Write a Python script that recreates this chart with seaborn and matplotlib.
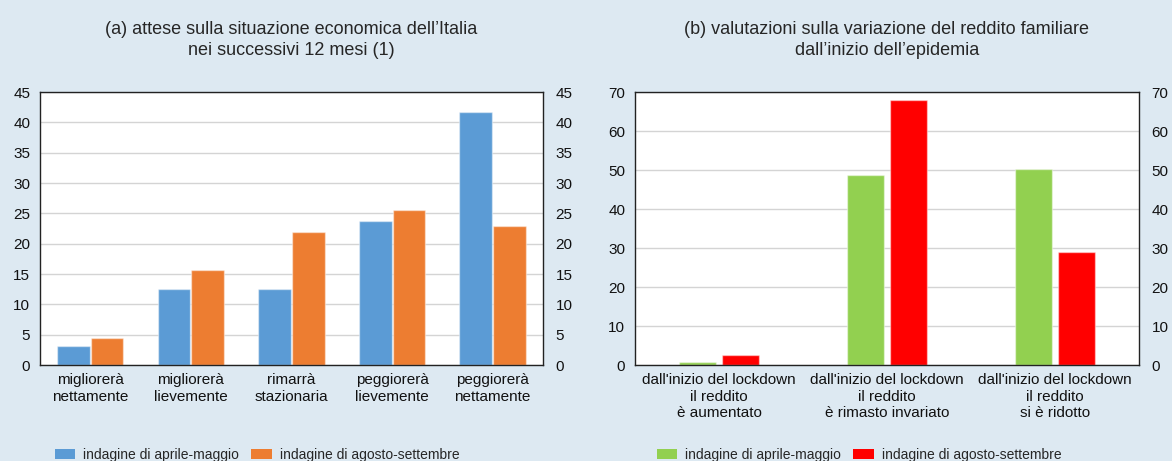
import pandas as pd
import matplotlib
matplotlib.use("Agg")
import matplotlib.pyplot as plt
from matplotlib.patches import Patch
import seaborn as sns

# Data
cat_a = ["migliorerà\nnettamente", "migliorerà\nlievemente", "rimarrà\nstazionaria",
         "peggiorerà\nlievemente", "peggiorerà\nnettamente"]
apr_a = [3.1, 12.6, 12.5, 23.7, 41.7]
ago_a = [4.5, 15.7, 21.9, 25.5, 22.9]

cat_b = ["dall'inizio del lockdown\nil reddito\nè aumentato",
         "dall'inizio del lockdown\nil reddito\nè rimasto invariato",
         "dall'inizio del lockdown\nil reddito\nsi è ridotto"]
apr_b = [0.9, 48.7, 50.2]
ago_b = [2.6, 68.1, 29.1]

series = ["indagine di aprile-maggio", "indagine di agosto-settembre"]

df_a = pd.DataFrame({"cat": cat_a * 2, "val": apr_a + ago_a,
                     "serie": [series[0]] * 5 + [series[1]] * 5})
df_b = pd.DataFrame({"cat": cat_b * 2, "val": apr_b + ago_b,
                     "serie": [series[0]] * 3 + [series[1]] * 3})

bg = "#dde9f2"
pal_a = ["#5b9bd5", "#ed7d31"]
pal_b = ["#92d050", "#ff0000"]

sns.set_style("white")
plt.rcParams["font.family"] = ["Liberation Sans", "DejaVu Sans"]

fig = plt.figure(figsize=(11.72, 4.61), dpi=100)
fig.patch.set_facecolor(bg)
ax1 = fig.add_axes([0.0341, 0.2082, 0.4292, 0.592])
ax2 = fig.add_axes([0.5418, 0.2082, 0.4300, 0.592])


def draw(ax, df, pal, ymax, step, width, gap, title):
    sns.barplot(data=df, x="cat", y="val", hue="serie", palette=pal, ax=ax,
                width=width, gap=gap, legend=False, saturation=1,
                edgecolor=(1, 1, 1, 0.45), linewidth=1)
    ax.set_ylim(0, ymax)
    ticks = list(range(0, ymax + 1, step))
    ax.set_yticks(ticks)
    ax.set_xlabel("")
    ax.set_ylabel("")
    ax.set_facecolor("white")
    ax.yaxis.grid(True, color="#d4d4d4", lw=1)
    ax.set_axisbelow(True)
    for s in ax.spines.values():
        s.set_color("#222222")
        s.set_linewidth(1)
    ax.tick_params(axis="both", length=0, labelsize=11, colors="#111111")
    ax.tick_params(axis="x", pad=6)
    ax.tick_params(axis="y", pad=7)
    ax.set_title(title, fontsize=13, linespacing=1.25, pad=27)
    axr = ax.twinx()
    axr.set_ylim(0, ymax)
    axr.set_yticks(ticks)
    axr.tick_params(axis="y", length=0, labelsize=11, pad=9, colors="#111111")
    for s in axr.spines.values():
        s.set_visible(False)


draw(ax1, df_a, pal_a, 45, 5, 0.67, 0.03,
     "(a) attese sulla situazione economica dell’Italia\nnei successivi 12 mesi (1)")
draw(ax2, df_b, pal_b, 70, 10, 0.51, 0.12,
     "(b) valutazioni sulla variazione del reddito familiare\ndall’inizio dell’epidemia")

for pal, xc in [(pal_a, 257 / 1172), (pal_b, 859 / 1172)]:
    handles = [Patch(facecolor=c, edgecolor="none") for c in pal]
    fig.legend(handles, series, loc="center", bbox_to_anchor=(xc, 1 - 455 / 461),
               ncol=2, frameon=False, fontsize=10, handlelength=1.45,
               handleheight=0.65, handletextpad=0.6, columnspacing=0.9)

fig.savefig("out.png", dpi=100, facecolor=bg)
